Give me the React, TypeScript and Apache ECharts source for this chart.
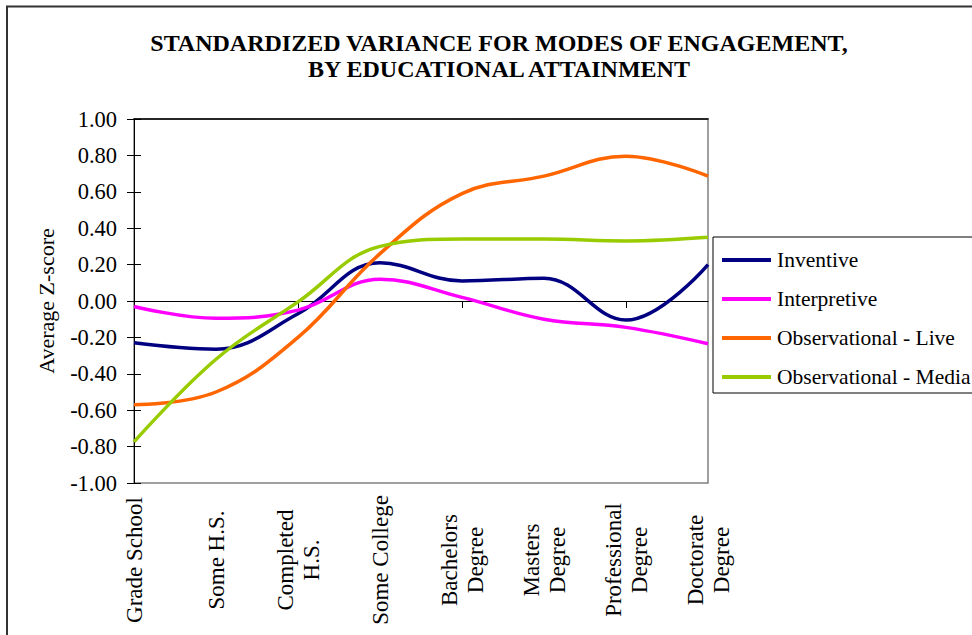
import React, { useEffect, useRef } from "react";
import * as echarts from "echarts";

const categories = [
  "Grade School",
  "Some H.S.",
  "Completed\nH.S.",
  "Some College",
  "Bachelors\nDegree",
  "Masters\nDegree",
  "Professional\nDegree",
  "Doctorate\nDegree",
];

const inventive = [-0.23, -0.265, -0.07, 0.21, 0.11, 0.125, -0.105, 0.2];
const interpretive = [-0.03, -0.095, -0.05, 0.12, 0.02, -0.1, -0.145, -0.235];
const observationalLive = [-0.57, -0.5, -0.2, 0.26, 0.59, 0.686, 0.796, 0.686];
const observationalMedia = [-0.774, -0.32, -0.005, 0.3, 0.34, 0.34, 0.33, 0.35];

const seriesNames = [
  "Inventive",
  "Interpretive",
  "Observational - Live",
  "Observational - Media",
];
const seriesColors = ["#000080", "#FF00FF", "#FF6600", "#99CC00"];
const seriesValues = [inventive, interpretive, observationalLive, observationalMedia];

const yTickMin = -1;
const yTickMax = 1;
const yTickStep = 0.2;

const FONT = "'Liberation Serif', 'Times New Roman', serif";

export default function App() {
  const ref = useRef<HTMLDivElement>(null);

  useEffect(() => {
    if (!ref.current) return;
    const chart = echarts.init(ref.current, null, { renderer: "svg" });

    const baseX = {
      type: "category" as const,
      data: categories,
      boundaryGap: false,
      axisLabel: { show: false },
      splitLine: { show: false },
    };

    chart.setOption({
      animation: false,
      backgroundColor: "#ffffff",
      title: {
        text: "STANDARDIZED VARIANCE FOR MODES OF ENGAGEMENT,\nBY EDUCATIONAL ATTAINMENT",
        left: 494,
        top: 25,
        textAlign: "center",
        textStyle: {
          fontFamily: FONT,
          fontWeight: "bold",
          fontSize: 24,
          lineHeight: 26,
          color: "#000000",
        },
      },
      graphic: [
        {
          type: "rect",
          shape: { x: 7, y: 6.5, width: 1100, height: 800 },
          style: { fill: "none", stroke: "#333333", lineWidth: 2 },
          silent: true,
        },
      ],
      legend: {
        orient: "vertical",
        left: 713,
        top: 237,
        padding: [12, 10, 5, 9],
        borderColor: "#000000",
        borderWidth: 1,
        icon: "rect",
        itemWidth: 49,
        itemHeight: 4,
        itemGap: 17,
        data: seriesNames,
        textStyle: {
          fontFamily: FONT,
          fontSize: 21.5,
          lineHeight: 21,
          color: "#000000",
          padding: [0, 0, 0, 1],
        },
      },
      grid: {
        left: 134,
        right: 264,
        top: 119,
        bottom: 152,
        show: true,
        borderColor: "#808080",
        borderWidth: 1.5,
        backgroundColor: "transparent",
      },
      xAxis: [
        {
          ...baseX,
          axisLine: { onZero: true, lineStyle: { color: "#000000", width: 1 } },
          axisTick: { show: true, inside: false, length: 7, lineStyle: { color: "#000000" } },
        },
        {
          ...baseX,
          axisLine: { show: false, onZero: true },
          axisTick: { show: true, inside: true, length: 7, lineStyle: { color: "#000000" } },
        },
        {
          ...baseX,
          position: "bottom",
          axisLine: { show: false, onZero: false },
          axisTick: { show: false },
          axisLabel: {
            show: true,
            interval: 0,
            rotate: 90,
            align: "center",
            margin: 77,
            fontFamily: FONT,
            fontSize: 23,
            lineHeight: 26,
            color: "#000000",
          },
        },
        {
          ...baseX,
          position: "top",
          axisLine: { show: true, onZero: false, lineStyle: { color: "#000000", width: 1.5 } },
          axisTick: { show: false },
        },
      ],
      yAxis: [
        {
          type: "value",
          min: yTickMin,
          max: yTickMax,
          interval: yTickStep,
          position: "left",
          name: "Average Z-score",
          nameLocation: "middle",
          nameGap: 77,
          nameRotate: 90,
          nameTextStyle: { fontFamily: FONT, fontSize: 22, color: "#000000" },
          axisLine: { show: true, lineStyle: { color: "#000000", width: 1 } },
          axisTick: { show: true, inside: false, length: 7, lineStyle: { color: "#000000" } },
          axisLabel: {
            margin: 17,
            fontFamily: FONT,
            fontSize: 22.5,
            color: "#000000",
            formatter: (v: number) => v.toFixed(2),
          },
          splitLine: { show: false },
        },
        {
          type: "value",
          min: yTickMin,
          max: yTickMax,
          interval: yTickStep,
          position: "left",
          axisLine: { show: false },
          axisTick: { show: true, inside: true, length: 7, lineStyle: { color: "#000000" } },
          axisLabel: { show: false },
          splitLine: { show: false },
        },
      ],
      series: seriesNames.map((name, i) => ({
        name,
        type: "line",
        xAxisIndex: 0,
        yAxisIndex: 0,
        data: seriesValues[i],
        smooth: 0.4,
        symbol: "none",
        color: seriesColors[i],
        lineStyle: { color: seriesColors[i], width: 3.5 },
      })),
    });

    return () => chart.dispose();
  }, []);

  return (
    <div
      ref={ref}
      style={{ position: "absolute", left: 0, top: 0, width: 972, height: 635 }}
    />
  );
}
